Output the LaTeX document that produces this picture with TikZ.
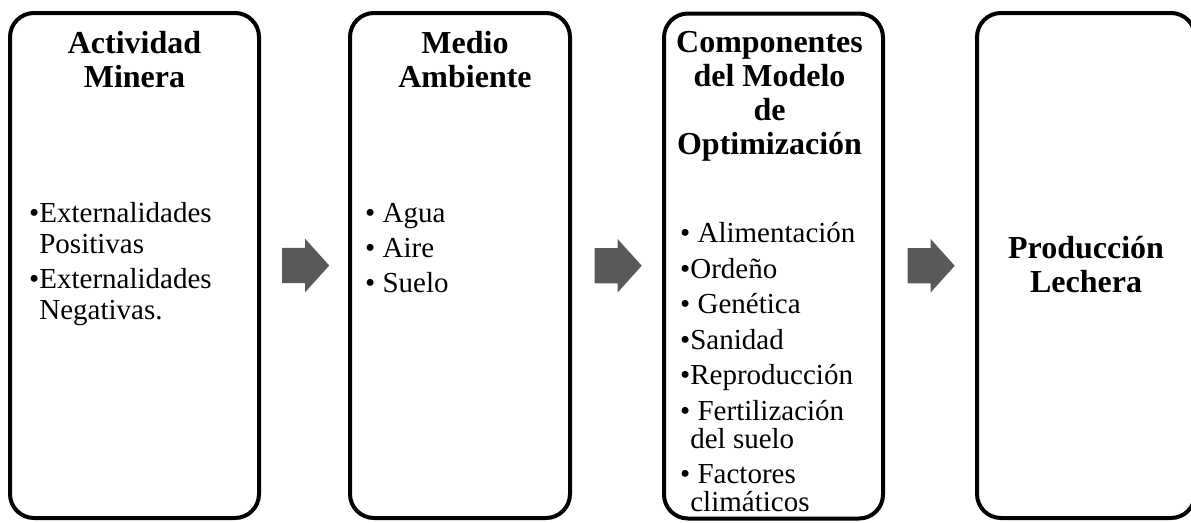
\documentclass[tikz,border=0pt]{standalone}
\usepackage{fontspec}
\setmainfont{Liberation Serif}
\usetikzlibrary{shapes.arrows,positioning,calc}
\definecolor{arrowGray}{RGB}{89,89,89}
\tikzset{
  stageBox/.style={draw,line width=4pt,rounded corners=24pt,minimum width=#1,minimum height=505pt,inner sep=0pt},
  stageBox/.default=219pt,
  stageTitle/.style={font=\fontsize{32}{34}\selectfont\bfseries,align=center,inner sep=0pt,anchor=base},
  stageBody/.style={font=\fontsize{29}{31}\selectfont,align=left,inner sep=0pt,anchor=base west},
  flowArrow/.style={single arrow,fill=arrowGray,draw=none,minimum height=47pt,minimum width=53pt,anchor=tail,
    single arrow head extend=9pt,single arrow tip angle=96,inner xsep=0pt,inner ysep=17.5pt},
}

\begin{document}
\begin{tikzpicture}[x=1pt,y=-1pt]
\useasboundingbox (0,0) rectangle (1191,522);

% Column anchors
\coordinate (Cone) at (134.5,265.5);
\coordinate (Ctwo) at (460,265.5);
\coordinate (Cthree) at (773.5,266);
\coordinate (Cfour) at (1086,265.5);

% ===== Actividad minera =====
\node[stageBox=249pt] (boxOne) at (Cone) {};
\node[stageTitle] (titleOne) at ($(boxOne.north)+(0,76)$) {Actividad\\Minera};
\node[stageBody] (listOne) at ($(boxOne.north west)+(21,308)$)
  {•Externalidades\\\phantom{•}Positivas\\[4pt]•Externalidades\\\phantom{•}Negativas.};

% ===== Medio ambiente =====
\node[stageBox=220pt] (boxTwo) at (Ctwo) {};
\node[stageTitle] (titleTwo) at ($(boxTwo.north)+(5,76)$) {Medio\\Ambiente};
\node[stageBody] (listTwo) at ($(boxTwo.north west)+(17,281)$)
  {• Agua\\[4pt]• Aire\\[4pt]• Suelo};

% ===== Componentes del modelo =====
\node[stageBox] (boxThree) at (Cthree) {};
\node[stageTitle] (titleThree) at ($(boxThree.north)+(-4,143)$) {Componentes\\del Modelo\\de\\Optimización};
\node[stageBody, font=\fontsize{29}{28}\selectfont] (listThree) at ($(boxThree.north west)+(18,500)$)
  {• Alimentación\\[7.5pt]•Ordeño\\[7.5pt]• Genética\\[7.5pt]•Sanidad\\[7.5pt]•Reproducción\\[7.5pt]%
   • Fertilización\\\phantom{•}del suelo\\[7.5pt]• Factores\\\phantom{•}climáticos};

% ===== Produccion lechera =====
\node[stageBox=218pt] (boxFour) at (Cfour) {};
\node[stageTitle] (titleFour) at ($(boxFour.north)+(0,281)$) {Producción\\Lechera};

% ===== Block arrows =====
\node[flowArrow] (arrowOne) at ($(boxOne.east)!0.5!(boxTwo.west)+(-22.5,0)$) {};
\node[flowArrow] (arrowTwo) at ($(boxTwo.east)!0.5!(boxThree.west)+(-22.5,0)$) {};
\node[flowArrow] (arrowThree) at ($(boxThree.east)!0.5!(boxFour.west)+(-22.5,0)$) {};

\end{tikzpicture}
\end{document}
